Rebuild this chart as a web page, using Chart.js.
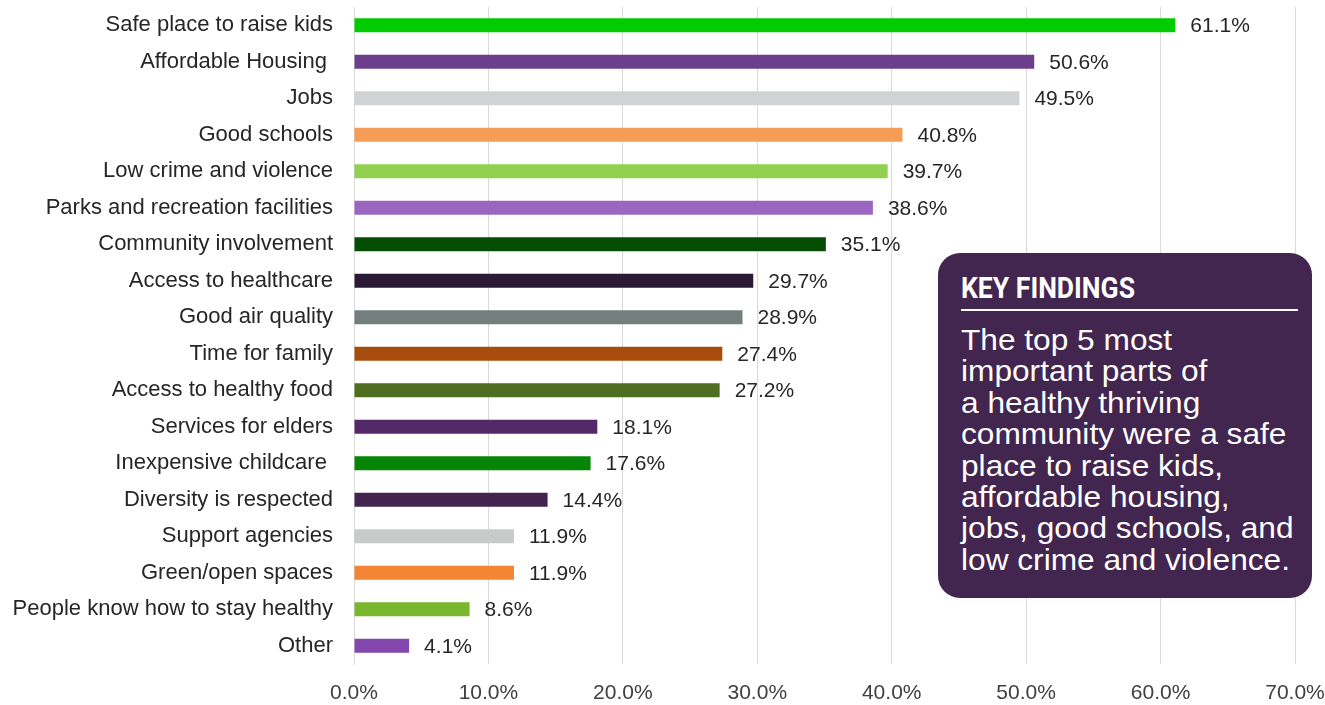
<!DOCTYPE html>
<html>
<head>
<meta charset="utf-8">
<title>Healthy thriving community</title>
<script src="https://cdn.jsdelivr.net/npm/chart.js@4.4.0/dist/chart.umd.min.js"></script>
<style>
    html, body { margin: 0; padding: 0; background: #ffffff; }
    #wrap { position: relative; width: 1325px; height: 705px; overflow: hidden; }
    #chart { position: absolute; left: 0; top: 0; }
    .key-box {
        position: absolute; left: 938px; top: 253px; width: 374px; height: 345px;
        background: #42264f; border-radius: 22px; color: #ffffff;
        font-family: 'Liberation Sans', Arial, sans-serif;
    }
    .key-title {
        position: absolute; left: 23px; top: 20.6px;
        font-family: Roboto, 'Liberation Sans', sans-serif;
        font-weight: bold; font-size: 29px; line-height: 29px; white-space: pre;
        transform: scaleX(0.915); transform-origin: left top;
    }
    .key-rule { position: absolute; left: 23px; top: 56px; width: 337px; height: 2px; background: #ffffff; }
    .key-text {
        position: absolute; left: 23px; top: 70.9px;
        font-size: 30px; line-height: 31.4px; white-space: pre;
        transform: scaleX(1.055); transform-origin: left top;
    }
</style>
</head>
<body>
<div id="wrap">
    <canvas id="chart" width="1325" height="705"></canvas>
    <div class="key-box">
        <div class="key-title" id="key-title"></div>
        <div class="key-rule"></div>
        <div class="key-text" id="key-text"></div>
    </div>
</div>
<script>
// --- data ---
const categories = [
    'Safe place to raise kids', 'Affordable Housing ', 'Jobs', 'Good schools',
    'Low crime and violence', 'Parks and recreation facilities', 'Community involvement',
    'Access to healthcare', 'Good air quality', 'Time for family', 'Access to healthy food',
    'Services for elders', 'Inexpensive childcare ', 'Diversity is respected',
    'Support agencies', 'Green/open spaces', 'People know how to stay healthy', 'Other'
];
const values = [61.1, 50.6, 49.5, 40.8, 39.7, 38.6, 35.1, 29.7, 28.9, 27.4, 27.2, 18.1, 17.6, 14.4, 11.9, 11.9, 8.6, 4.1];
const barColors = [
    '#00cc00', '#6b3f8b', '#d0d3d4', '#f59d56', '#92d050', '#9b66c0',
    '#054d05', '#2b1a35', '#727f7c', '#a84c0b', '#4f6f20', '#53296a',
    '#078507', '#42244f', '#c7cccb', '#f38535', '#7ab72e', '#8347ad'
];
const xTickLabels = ['0.0%', '10.0%', '20.0%', '30.0%', '40.0%', '50.0%', '60.0%', '70.0%'];
const keyTitle = 'KEY FINDINGS';
const keyLines = [
    'The top 5 most', 'important parts of', 'a healthy thriving', 'community were a safe',
    'place to raise kids,', 'affordable housing,', 'jobs, good schools, and', 'low crime and violence.'
];

document.getElementById('key-title').textContent = keyTitle;
document.getElementById('key-text').textContent = keyLines.join('\n');

const textFont = "'Liberation Sans', Arial, sans-serif";

// value labels at the end of each bar
const barValueLabels = {
    id: 'barValueLabels',
    afterDatasetsDraw(chart) {
        const ctx = chart.ctx;
        const meta = chart.getDatasetMeta(0);
        ctx.save();
        ctx.font = '21px ' + textFont;
        ctx.fillStyle = '#262626';
        ctx.textBaseline = 'middle';
        ctx.textAlign = 'left';
        meta.data.forEach((bar, i) => {
            ctx.fillText(values[i].toFixed(1) + '%', bar.x + 15, bar.y + 1);
        });
        ctx.restore();
    }
};

new Chart(document.getElementById('chart'), {
    type: 'bar',
    data: {
        labels: categories,
        datasets: [{
            data: values,
            backgroundColor: barColors,
            borderWidth: 0,
            barPercentage: 0.39,
            categoryPercentage: 1
        }]
    },
    options: {
        indexAxis: 'y',
        responsive: false,
        animation: false,
        layout: { padding: { top: 7, right: 30, left: 0, bottom: 0 } },
        plugins: {
            legend: { display: false },
            tooltip: { enabled: false }
        },
        scales: {
            x: {
                min: 0,
                max: 70,
                ticks: {
                    stepSize: 10,
                    padding: 17,
                    color: '#404040',
                    font: { family: textFont, size: 21 },
                    callback: (v, i) => xTickLabels[i]
                },
                grid: { color: '#d9d9d9', drawTicks: false },
                border: { display: false },
                afterFit(scale) {
                    scale.height = 41;
                    scale.paddingLeft = 0;
                    scale.paddingRight = 0;
                }
            },
            y: {
                grid: { display: false, drawTicks: false },
                border: { display: true, color: '#d9d9d9' },
                ticks: {
                    autoSkip: false,
                    padding: 21,
                    color: '#262626',
                    font: { family: textFont, size: 22 }
                },
                afterFit(scale) {
                    scale.width = 354;
                    scale.paddingTop = 0;
                    scale.paddingBottom = 0;
                }
            }
        }
    },
    plugins: [barValueLabels]
});
</script>
</body>
</html>
